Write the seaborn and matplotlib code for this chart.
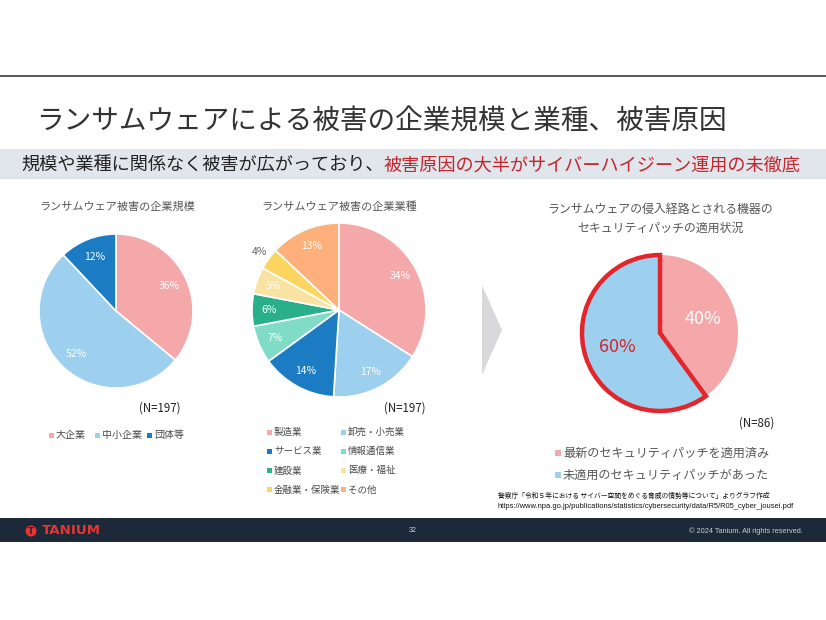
import matplotlib
matplotlib.use("Agg")
import matplotlib.pyplot as plt
from matplotlib.patches import Rectangle, Polygon, Circle
import seaborn as sns

sns.set_theme(style="white")
plt.rcParams['font.family'] = ['Noto Sans CJK JP', 'DejaVu Sans']

# ---- data ----
title = "ランサムウェアによる被害の企業規模と業種、被害原因"
sub_black = "規模や業種に関係なく被害が広がっており、"
sub_red = "被害原因の大半がサイバーハイジーン運用の未徹底"

size_title = "ランサムウェア被害の企業規模"
size_labels = ["大企業", "中小企業", "団体等"]
size_values = [36, 52, 12]
size_n = "(N=197)"

ind_title = "ランサムウェア被害の企業業種"
ind_labels = ["製造業", "卸売・小売業", "サービス業", "情報通信業",
              "建設業", "医療・福祉", "金融業・保険業", "その他"]
ind_values = [34, 17, 14, 7, 6, 5, 4, 13]
ind_n = "(N=197)"

patch_title = "ランサムウェアの侵入経路とされる機器の\nセキュリティパッチの適用状況"
patch_labels = ["最新のセキュリティパッチを適用済み", "未適用のセキュリティパッチがあった"]
patch_values = [40, 60]
patch_n = "(N=86)"

source1 = "警察庁「令和５年における サイバー空間をめぐる脅威の情勢等について」よりグラフ作成"
source2 = "https://www.npa.go.jp/publications/statistics/cybersecurity/data/R5/R05_cyber_jousei.pdf"

PINK, LBLUE, DBLUE = "#f5a8aa", "#9dcfef", "#1b7bc3"
size_colors = [PINK, LBLUE, DBLUE]
ind_colors = [PINK, LBLUE, DBLUE, "#80dcc6", "#29b08b", "#fae3a2", "#fcd55e", "#fdb07c"]
patch_colors = [PINK, LBLUE]
RED = "#e3262c"

W, H = 826, 620
fig = plt.figure(figsize=(W / 100, H / 100), dpi=100)
bg = fig.add_axes([0, 0, 1, 1])
bg.set_xlim(0, W)
bg.set_ylim(H, 0)
bg.axis("off")

# header
bg.plot([0, W], [76, 76], color="#3a3a3a", lw=1.2)
bg.text(36, 122, title, fontsize=19.9, color="#333333", va="center", ha="left")
bg.add_patch(Rectangle((0, 149), W, 30, color="#e1e5ec", lw=0))
t1 = bg.text(21, 165.5, sub_black, fontsize=13.1, color="#222222", va="center", ha="left")
r = fig.canvas.get_renderer()
x_end = t1.get_window_extent(renderer=r).x1
bg.text(x_end, 165.5, sub_red, fontsize=13.1, color="#c1272d", va="center", ha="left")


def pie_axes(cx, cy, rad):
    ax = fig.add_axes([(cx - rad) / W, 1 - (cy + rad) / H, 2 * rad / W, 2 * rad / H])
    return ax


def fix_limits(ax):
    # pie() resets the limits, so apply them afterwards
    ax.set_xlim(-1, 1)
    ax.set_ylim(-1, 1)
    ax.set_aspect("equal")
    ax.axis("off")


# pie 1: company size
ax1 = pie_axes(116, 311, 77)
_, _, txt1 = ax1.pie(size_values, colors=size_colors, startangle=90, counterclock=False,
                     radius=1, autopct=lambda p: f"{p:.0f}%", pctdistance=0.76,
                     wedgeprops=dict(edgecolor="white", linewidth=1.2),
                     textprops=dict(color="white", fontsize=7.5))
fix_limits(ax1)
bg.text(117, 207, size_title, fontsize=8, color="#555555", ha="center", va="center")
bg.text(160, 408, size_n, fontsize=8.3, color="#222222", ha="center", va="center")
leg_x = [51, 97, 149]
for x, lab, col in zip(leg_x, size_labels, size_colors):
    bg.add_patch(Rectangle((x - 2.5, 432.5), 5, 5, color=col, lw=0))
    bg.text(x + 5, 435, lab, fontsize=7.2, color="#4a4a4a", ha="left", va="center")

# pie 2: industry
ax2 = pie_axes(339, 310, 87)
_, _, txt2 = ax2.pie(ind_values, colors=ind_colors, startangle=90, counterclock=False,
                     radius=1, autopct=lambda p: f"{p:.0f}%", pctdistance=0.8,
                     wedgeprops=dict(edgecolor="white", linewidth=1.2),
                     textprops=dict(color="white", fontsize=7.5))
fix_limits(ax2)
# small slice label sits outside
small = ind_values.index(min(ind_values))
tx, ty = txt2[small].get_position()
txt2[small].set_position((tx * 1.42, ty * 1.42))
txt2[small].set_color("#666666")
txt2[small].set_clip_on(False)
bg.text(339, 207, ind_title, fontsize=8, color="#555555", ha="center", va="center")
bg.text(405, 408, ind_n, fontsize=8.3, color="#222222", ha="center", va="center")
col_x = [269, 343]
for i, (lab, col) in enumerate(zip(ind_labels, ind_colors)):
    x = col_x[i % 2]
    y = 432 + (i // 2) * 19.3
    bg.add_patch(Rectangle((x - 2.5, y - 2.5), 5, 5, color=col, lw=0))
    bg.text(x + 5, y, lab, fontsize=6.8, color="#4a4a4a", ha="left", va="center")

# arrow
bg.add_patch(Polygon([(482, 285), (502, 330), (482, 375)], closed=True,
                     color="#d9d9dc", lw=0))

# pie 3: patch status
ax3 = pie_axes(660, 333, 78)
w3, _, txt3 = ax3.pie(patch_values, colors=patch_colors, startangle=90, counterclock=False,
                      radius=1, autopct=lambda p: f"{p:.0f}%", pctdistance=0.58,
                      wedgeprops=dict(linewidth=0),
                      textprops=dict(color="white", fontsize=13))
fix_limits(ax3)
w3[1].set_edgecolor(RED)
w3[1].set_linewidth(3.2)
w3[1].set_joinstyle("miter")
w3[1].set_zorder(3)
w3[1].set_clip_on(False)
txt3[1].set_color("#d4252b")
txt3[1].set_zorder(4)
bg.text(660, 219, patch_title, fontsize=8.6, color="#555555", ha="center", va="center",
        linespacing=1.6)
bg.text(757, 423, patch_n, fontsize=8.3, color="#222222", ha="center", va="center")
for i, (lab, col) in enumerate(zip(patch_labels, patch_colors)):
    y = 453 + i * 22
    bg.add_patch(Rectangle((555, y - 3), 6, 6, color=col, lw=0))
    bg.text(563, y, lab, fontsize=8.7, color="#555555", ha="left", va="center")

# source
bg.text(498, 496, source1, fontsize=4.9, color="#111111", ha="left", va="center")
bg.text(498, 506, source2, fontsize=5.4, color="#111111", ha="left", va="center",
        family="Liberation Sans")

# footer
bg.add_patch(Rectangle((0, 518), W, 24, color="#1d2838", lw=0))
bg.add_patch(Circle((31, 531), 5.5, color="#e8332f", lw=0))
bg.text(30.5, 532, "T", fontsize=6, color="#1d2838", ha="center", va="center",
        fontweight="bold", family="DejaVu Sans")
bg.text(42, 531, "TANIUM", fontsize=9.6, color="#e8332f", ha="left", va="center",
        fontweight="bold", family="DejaVu Sans")
bg.text(413, 531, "32", fontsize=5.2, color="#c8ccd4", ha="center", va="center",
        family="Liberation Sans")
bg.text(803, 531, "© 2024 Tanium. All rights reserved.", fontsize=5.3, color="#c8ccd4",
        ha="right", va="center", family="Liberation Sans")

fig.savefig("out.png", dpi=100, facecolor="white")
